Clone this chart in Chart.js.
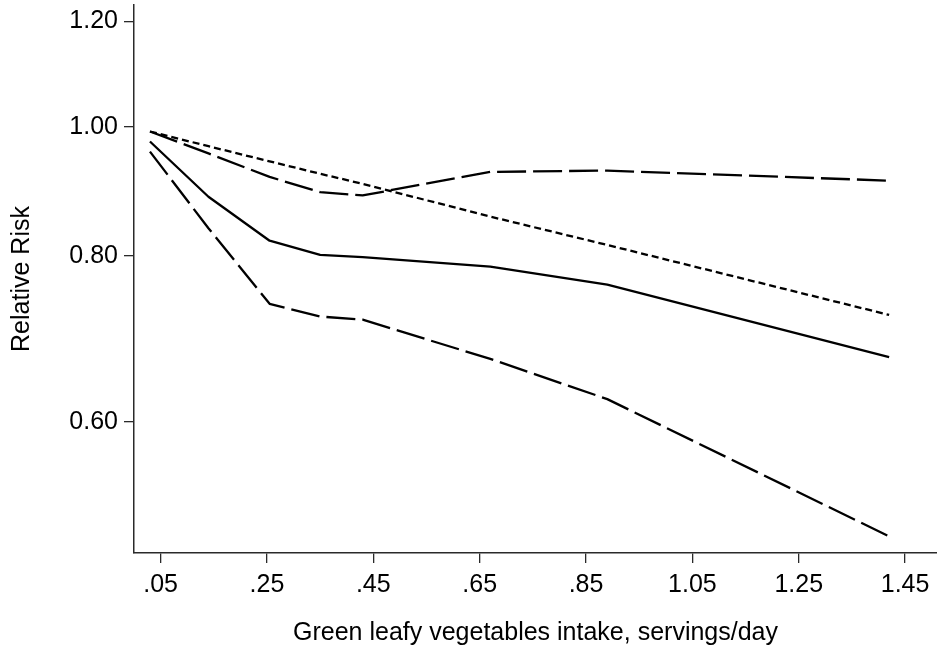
<!DOCTYPE html>
<html>
<head>
<meta charset="utf-8">
<script src="https://cdn.jsdelivr.net/npm/chart.js@4/dist/chart.umd.min.js"></script>
<style>
  html, body { margin: 0; padding: 0; background: #fff; }
  #wrap { width: 937px; height: 650px; }
</style>
</head>
<body>
<div id="wrap"><canvas id="chart" width="937" height="650"></canvas></div>
<script>
// Intake levels (servings/day) at which the curves are evaluated
const intake = [0.03, 0.14, 0.255, 0.35, 0.43, 0.67, 0.89, 1.42];

// Restricted cubic spline estimate of relative risk
const rrSpline = [0.975, 0.886, 0.821, 0.801, 0.798, 0.785, 0.761, 0.671];
// 95% confidence limits of the spline estimate
const ciUpper = [0.992, 0.955, 0.917, 0.893, 0.888, 0.925, 0.927, 0.911];
const ciLower = [0.958, 0.839, 0.736, 0.720, 0.716, 0.669, 0.624, 0.492];
// Linear (log-linear) trend
const rrLinear = [0.992, 0.967, 0.942, 0.922, 0.906, 0.856, 0.815, 0.722];

// Axis ticks
const xTickValues = [0.05, 0.25, 0.45, 0.65, 0.85, 1.05, 1.25, 1.45];
const xTickLabels = ['.05', '.25', '.45', '.65', '.85', '1.05', '1.25', '1.45'];
const yTickValues = [0.6, 0.8, 1.0, 1.2];
const yTickLabels = ['0.60', '0.80', '1.00', '1.20'];

const FONT = { family: "'Liberation Sans', Arial, sans-serif", size: 25 };
const AXIS_COLOR = '#2a2a2a';

function points(ys) {
  return intake.map((x, i) => ({ x: x, y: ys[i] }));
}

function lineSet(label, ys, dash) {
  return {
    label: label,
    data: points(ys),
    borderColor: '#000',
    borderWidth: 2.3,
    borderDash: dash,
    borderCapStyle: 'butt',
    borderJoinStyle: 'round',
    pointRadius: 0,
    fill: false,
    tension: 0
  };
}

new Chart(document.getElementById('chart'), {
  type: 'line',
  data: {
    datasets: [
      lineSet('Spline', rrSpline, []),
      lineSet('Upper 95% CI', ciUpper, [29, 7]),
      lineSet('Lower 95% CI', ciLower, [29, 7]),
      lineSet('Linear trend', rrLinear, [7, 4])
    ]
  },
  options: {
    responsive: false,
    animation: false,
    events: [],
    layout: { padding: { top: 5, right: 0, left: 0, bottom: 0 } },
    plugins: {
      legend: { display: false },
      tooltip: { enabled: false }
    },
    scales: {
      x: {
        type: 'linear',
        min: 0,
        max: 1.51,
        afterBuildTicks: (scale) => {
          scale.ticks = xTickValues.map(v => ({ value: v }));
        },
        afterFit: (scale) => {
          scale.height = 97;
          scale.paddingLeft = 0;
          scale.paddingRight = 0;
        },
        ticks: {
          autoSkip: false,
          maxRotation: 0,
          padding: 7,
          color: '#000',
          font: FONT,
          callback: (value, index) => xTickLabels[index]
        },
        grid: {
          drawOnChartArea: false,
          drawTicks: true,
          tickLength: 10,
          color: AXIS_COLOR,
          lineWidth: 1.3
        },
        border: { display: true, color: AXIS_COLOR, width: 1.5 },
        title: {
          display: true,
          text: 'Green leafy vegetables intake, servings/day',
          color: '#000',
          font: FONT,
          padding: { top: 0, bottom: 2 }
        }
      },
      y: {
        type: 'logarithmic',
        min: 0.478,
        max: 1.235,
        afterBuildTicks: (scale) => {
          scale.ticks = yTickValues.map(v => ({ value: v }));
        },
        afterFit: (scale) => {
          scale.width = 134;
          scale.paddingTop = 0;
          scale.paddingBottom = 0;
        },
        ticks: {
          autoSkip: false,
          padding: 6,
          color: '#000',
          font: FONT,
          callback: (value, index) => yTickLabels[index]
        },
        grid: {
          drawOnChartArea: false,
          drawTicks: true,
          tickLength: 10,
          color: AXIS_COLOR,
          lineWidth: 1.3
        },
        border: { display: true, color: AXIS_COLOR, width: 1.5 },
        title: {
          display: true,
          text: 'Relative Risk',
          color: '#000',
          font: FONT,
          padding: { top: 7, bottom: 0 }
        }
      }
    }
  }
});
</script>
</body>
</html>
